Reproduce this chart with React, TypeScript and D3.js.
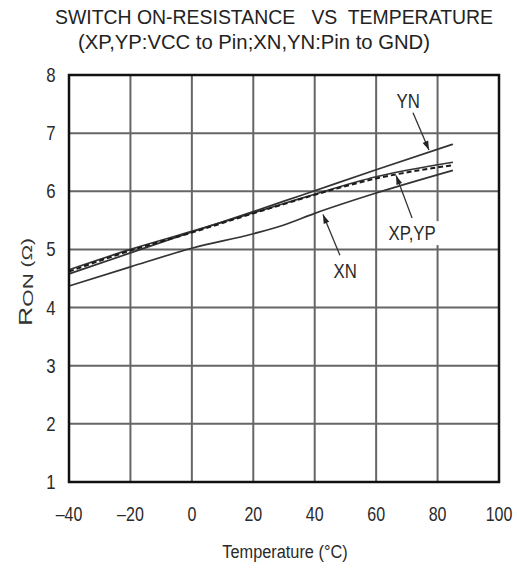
import React from "react";
import * as d3 from "d3";

const temps = [-40, -20, 0, 20, 30, 40, 60, 85];
const ynVals = [4.58, 4.94, 5.30, 5.65, 5.83, 6.01, 6.37, 6.81];
const xpVals = [4.65, 5.0, 5.31, 5.63, 5.79, 5.95, 6.25, 6.5];
const ypVals = [4.62, 4.98, 5.29, 5.62, 5.78, 5.94, 6.22, 6.45];
const xnVals = [4.37, 4.7, 5.02, 5.27, 5.42, 5.62, 5.97, 6.36];

const xTicks = [-40, -20, 0, 20, 40, 60, 80, 100];
const yTicks = [1, 2, 3, 4, 5, 6, 7, 8];

const labels = [
  { text: "YN", tx: 70.4, ty: 7.43, ax1: 72, ay1: 7.35, ax2: 77.2, ay2: 6.71, box: false },
  { text: "XP,YP", tx: 71.7, ty: 5.16, ax1: 71.7, ay1: 5.54, ax2: 66.5, ay2: 6.27, box: true },
  { text: "XN", tx: 49.9, ty: 4.51, ax1: 48.2, ay1: 4.9, ax2: 42.7, ay2: 5.6, box: false },
];

const W = 519;
const H = 569;
const L = 69, R = 499, T = 75, B = 482;
const FONT = "'Liberation Sans', Arial, sans-serif";
const SX = 0.84;

function NText(props: { x: number; y: number; size: number; children: React.ReactNode; sx?: number }) {
  const s = props.sx ?? SX;
  return (
    <g transform={`translate(${props.x},${props.y}) scale(${s},1)`}>
      <text x={0} y={0} textAnchor="middle" fontFamily={FONT} fontSize={props.size} fill="#2a2a2a">
        {props.children}
      </text>
    </g>
  );
}

export default function App() {
  const x = d3.scaleLinear().domain([-40, 100]).range([L, R]);
  const y = d3.scaleLinear().domain([1, 8]).range([B, T]);
  const line = d3
    .line<number>()
    .x((_, i) => x(temps[i]))
    .y((d) => y(d))
    .curve(d3.curveMonotoneX);

  const arrowHead = (x1: number, y1: number, x2: number, y2: number) => {
    const ang = Math.atan2(y2 - y1, x2 - x1);
    const len = 9, wid = 3;
    const bx = x2 - len * Math.cos(ang), by = y2 - len * Math.sin(ang);
    const px = -Math.sin(ang) * wid, py = Math.cos(ang) * wid;
    return `M${x2},${y2}L${bx + px},${by + py}L${bx - px},${by - py}Z`;
  };

  return (
    <svg width={W} height={H} style={{ position: "absolute", left: 0, top: 0, background: "#fff" }}>
      <rect x={0} y={0} width={W} height={H} fill="#fff" />
      <text x={274} y={24} textAnchor="middle" fontFamily={FONT} fontSize={20} fill="#222"
        textLength={438} lengthAdjust="spacingAndGlyphs" style={{ whiteSpace: "pre" }}>
        {"SWITCH ON-RESISTANCE   VS  TEMPERATURE"}
      </text>
      <text x={254} y={49} textAnchor="middle" fontFamily={FONT} fontSize={20} fill="#222"
        textLength={352} lengthAdjust="spacingAndGlyphs">
        (XP,YP:VCC to Pin;XN,YN:Pin to GND)
      </text>

      {/* grid */}
      {xTicks.slice(1, -1).map((t) => (
        <line key={"gx" + t} x1={x(t)} x2={x(t)} y1={T} y2={B} stroke="#666" strokeWidth={2} />
      ))}
      {yTicks.slice(1, -1).map((t) => (
        <line key={"gy" + t} x1={L} x2={R} y1={y(t)} y2={y(t)} stroke="#666" strokeWidth={2} />
      ))}

      {/* data lines */}
      <path d={line(ynVals) || ""} fill="none" stroke="#333" strokeWidth={1.7} />
      <path d={line(xpVals) || ""} fill="none" stroke="#333" strokeWidth={1.7} />
      <path d={line(ypVals) || ""} fill="none" stroke="#1a1a1a" strokeWidth={2} strokeDasharray="5,3" />
      <path d={line(xnVals) || ""} fill="none" stroke="#333" strokeWidth={1.7} />

      {/* frame */}
      <rect x={L} y={T} width={R - L} height={B - T} fill="none" stroke="#111" strokeWidth={2.5} />

      {/* annotations */}
      {labels.map((lb) => {
        const x1 = x(lb.ax1), y1 = y(lb.ay1), x2 = x(lb.ax2), y2 = y(lb.ay2);
        return (
          <g key={lb.text}>
            {lb.box && (
              <rect x={x(lb.tx) - 31} y={y(lb.ty) - 19} width={62} height={24} fill="#fff" />
            )}
            <line x1={x1} y1={y1} x2={x2} y2={y2} stroke="#333" strokeWidth={1.3} />
            <path d={arrowHead(x1, y1, x2, y2)} fill="#222" />
            <NText x={x(lb.tx)} y={y(lb.ty)} size={20}>{lb.text}</NText>
          </g>
        );
      })}

      {/* y tick labels */}
      {yTicks.map((t) => (
        <NText key={"yt" + t} x={51} y={y(t) + 7} size={20}>{t}</NText>
      ))}
      {/* x tick labels */}
      {xTicks.map((t) => (
        <NText key={"xt" + t} x={x(t)} y={521} size={20} sx={0.8}>
          {t < 0 ? "\u2013" + Math.abs(t) : String(t)}
        </NText>
      ))}
      <NText x={285} y={558} size={19} sx={0.86}>Temperature (°C)</NText>
      <text transform="translate(32,282) rotate(-90)" textAnchor="middle" fontFamily={FONT} fontSize={18} fill="#333"
        textLength={88} lengthAdjust="spacingAndGlyphs">
        <tspan>R</tspan>
        <tspan fontSize={15} dy={1}>ON</tspan>
        <tspan fontSize={14} dy={-1}> (Ω)</tspan>
      </text>
    </svg>
  );
}
